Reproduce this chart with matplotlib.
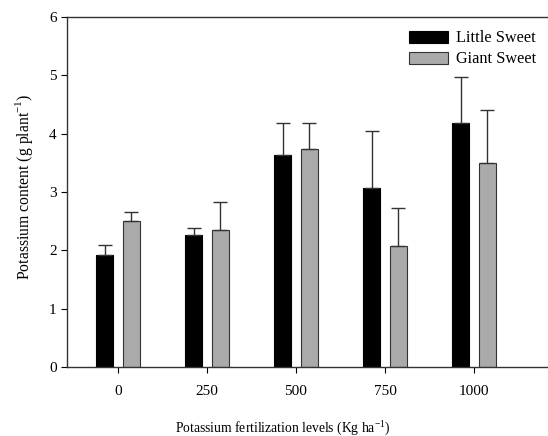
import numpy as np
import matplotlib
matplotlib.use('Agg')
import matplotlib.pyplot as plt

levels = ['0', '250', '500', '750', '1000']
little_sweet = [1.92, 2.27, 3.63, 3.07, 4.18]
little_err = [0.17, 0.12, 0.55, 0.97, 0.80]
giant_sweet = [2.51, 2.35, 3.74, 2.07, 3.50]
giant_err = [0.15, 0.47, 0.45, 0.65, 0.91]

plt.rcParams['font.family'] = ['Liberation Serif', 'DejaVu Serif']

fig = plt.figure(figsize=(5.48, 4.36), dpi=100)
ax = fig.add_axes([67 / 548, 1 - 367 / 436, 483 / 548, 350 / 436])

x = np.arange(len(levels))
width = 0.185
off = 0.15
err_kw = dict(ecolor='#333333', elinewidth=1.0, capsize=5, capthick=1.0)

ax.bar(x - off, little_sweet, width, color='black', edgecolor='black', linewidth=0.8,
       yerr=[np.zeros(len(x)), little_err], error_kw=err_kw, label='Little Sweet')
ax.bar(x + off, giant_sweet, width, color='#aaaaaa', edgecolor='#333333', linewidth=0.8,
       yerr=[np.zeros(len(x)), giant_err], error_kw=err_kw, label='Giant Sweet')

ax.set_xlim(-0.573, 4.854)
ax.set_ylim(0, 6)
ax.set_xticks(x)
ax.set_xticklabels(levels, fontsize=11)
ax.set_yticks(range(7))
ax.tick_params(axis='y', labelsize=11, direction='out', length=4, width=0.8)
ax.tick_params(axis='x', direction='out', length=4, width=0.8, pad=9)
for s in ax.spines.values():
    s.set_color('#333333')
    s.set_linewidth(1.0)

ax.set_ylabel('Potassium content (g plant$^{\\mathregular{-1}}$)', fontsize=11.3)
ax.yaxis.set_label_coords(-0.066, 0.515)
fig.text(283 / 548, 1 - 428 / 436, 'Potassium fertilization levels (Kg ha$^{\\mathregular{-1}}$)',
         ha='center', va='center', fontsize=9.8)

ax.legend(loc='upper right', bbox_to_anchor=(476 / 483, 1 - 7 / 350), frameon=False,
          fontsize=11.7, handlelength=2.4, handleheight=0.75, labelspacing=0.3,
          borderaxespad=0, handletextpad=0.5)

fig.savefig('out.png', dpi=100)
